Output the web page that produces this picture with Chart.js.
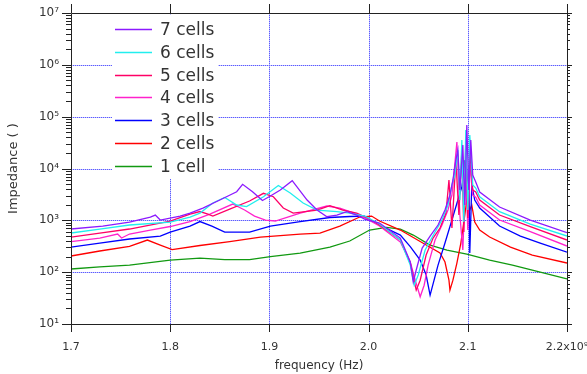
<!DOCTYPE html>
<html>
<head>
<meta charset="utf-8">
<script src="https://cdn.jsdelivr.net/npm/chart.js@4"></script>
<style>
html, body { margin: 0; padding: 0; background: #fff; }
#wrap { width: 587px; height: 374px; }
</style>
</head>
<body>
<div id="wrap"><canvas id="chart" width="587" height="374"></canvas></div>
<script>
// frequency in units of 1e9 Hz, impedance in ohms
const seriesNames = ['7 cells', '6 cells', '5 cells', '4 cells', '3 cells', '2 cells', '1 cell'];
const seriesColors = ['#8c1aff', '#22eeee', '#ff0066', '#ff22cc', '#0000ff', '#ff0000', '#119911'];

const xTickValues = [1.7, 1.8, 1.9, 2.0, 2.1, 2.2];
const xTickLabels = ['1.7', '1.8', '1.9', '2.0', '2.1', '2.2x10\u2079'];
const yTickValues = [1e1, 1e2, 1e3, 1e4, 1e5, 1e6, 1e7];
const yTickLabels = ['10\u00b9', '10\u00b2', '10\u00b3', '10\u2074', '10\u2075', '10\u2076', '10\u2077'];

const cells7 = [[1.700,680],[1.732,776],[1.759,927],[1.780,1158],[1.785,1265],[1.790,1013],[1.810,1210],[1.820,1380],
  [1.833,1726],[1.850,2465],[1.867,3565],[1.873,4950],[1.883,3565],[1.893,2410],[1.901,2945],[1.911,3850],[1.923,5810],
  [1.938,2465],[1.948,1580],[1.958,1175],[1.968,1265],[1.978,1467],[1.988,1265],[1.996,1060],[2.011,887],[2.032,455],
  [2.042,157],[2.045,65],[2.048,110],[2.054,292],[2.062,498],[2.070,812],[2.077,1580],[2.082,3076],[2.085,6000],
  [2.088,14600],[2.090,22800],[2.092,3850],[2.095,28400],[2.097,1975],[2.099,69000],[2.101,3850],[2.103,35500],
  [2.105,7480],[2.108,5490],[2.112,3520],[2.132,1805],[2.163,1013],[2.200,577]];

const cells6 = [[1.700,569],[1.729,679],[1.759,812],[1.800,927],[1.820,1158],[1.830,1380],[1.843,2157],[1.855,2755],
  [1.867,1975],[1.877,1845],[1.894,2855],[1.909,4700],[1.921,3365],[1.934,2157],[1.948,1580],[1.968,1467],[1.981,1380],
  [1.996,1210],[2.011,848],[2.032,417],[2.042,137],[2.046,56],[2.050,88],[2.057,267],[2.067,594],[2.074,1013],
  [2.080,1975],[2.084,4820],[2.087,7480],[2.090,22800],[2.092,2465],[2.094,35500],[2.096,927],[2.098,55300],
  [2.100,1580],[2.102,44300],[2.105,4820],[2.108,4200],[2.112,2855],[2.132,1467],[2.163,848],[2.200,498]];

const cells5 = [[1.700,476],[1.729,569],[1.759,680],[1.800,970],[1.820,1323],[1.830,1480],[1.838,1323],[1.843,1210],
  [1.860,1650],[1.880,2360],[1.894,3320],[1.904,2855],[1.914,1726],[1.924,1380],[1.948,1580],[1.961,1915],[1.974,1580],
  [1.988,1380],[2.001,1060],[2.011,812],[2.032,417],[2.042,150],[2.048,45],[2.052,70],[2.058,214],[2.065,455],
  [2.072,710],[2.078,1380],[2.081,6000],[2.084,710],[2.088,14600],[2.091,1265],[2.094,22800],[2.096,594],
  [2.098,38800],[2.100,1107],[2.102,22800],[2.105,3850],[2.108,3520],[2.112,2465],[2.132,1265],[2.163,753],[2.200,417]];

const cells4 = [[1.700,390],[1.729,455],[1.747,544],[1.751,455],[1.759,544],[1.780,650],[1.800,760],[1.820,948],
  [1.840,1323],[1.863,2063],[1.875,1580],[1.885,1210],[1.896,1013],[1.906,970],[1.931,1380],[1.958,1888],[1.971,1726],
  [1.991,1265],[2.011,776],[2.032,381],[2.042,157],[2.047,70],[2.052,33.5],[2.056,56],[2.060,137],[2.067,417],
  [2.074,812],[2.080,1580],[2.084,3076],[2.089,32500],[2.092,1265],[2.095,267],[2.098,9350],[2.100,650],
  [2.102,11700],[2.105,3076],[2.108,2800],[2.112,1975],[2.132,1013],[2.163,603],[2.200,319]];

const cells3 = [[1.700,305],[1.729,365],[1.759,436],[1.790,498],[1.800,594],[1.820,776],[1.830,948],[1.842,776],
  [1.855,594],[1.880,594],[1.901,776],[1.931,948],[1.961,1133],[1.981,1185],[1.996,1210],[2.011,812],[2.032,520],
  [2.042,310],[2.052,171],[2.058,88],[2.062,36],[2.066,70],[2.070,137],[2.077,365],[2.084,1013],[2.090,2465],
  [2.094,4400],[2.097,14600],[2.099,3850],[2.101,11700],[2.102,234],[2.104,4800],[2.107,2465],[2.112,1726],
  [2.122,1158],[2.132,776],[2.153,498],[2.173,365],[2.200,244]];

const cells2 = [[1.700,205],[1.729,256],[1.759,313],[1.777,417],[1.790,334],[1.802,273],[1.830,327],[1.860,390],
  [1.891,476],[1.931,544],[1.951,569],[1.971,776],[1.991,1158],[2.003,1210],[2.011,970],[2.032,650],[2.052,390],
  [2.072,234],[2.077,157],[2.081,70],[2.082,45],[2.085,70],[2.089,150],[2.093,365],[2.096,927],[2.099,2465],
  [2.102,1580],[2.104,1975],[2.107,927],[2.112,650],[2.122,476],[2.143,305],[2.165,214],[2.200,150]];

const cells1 = [[1.700,115],[1.729,126],[1.759,137],[1.800,171],[1.830,187],[1.855,175],[1.880,175],[1.901,200],
  [1.931,234],[1.961,305],[1.981,399],[2.001,650],[2.018,733],[2.032,679],[2.045,520],[2.062,333],[2.079,267],
  [2.099,224],[2.122,171],[2.145,137],[2.173,100],[2.200,74]];

const seriesData = [cells7, cells6, cells5, cells4, cells3, cells2, cells1];

const FONT = "'DejaVu Sans', sans-serif";
const TEXT = '#333';

// dotted blue grid at the inner major ticks, drawn under the curves
const gridPlugin = {
  id: 'dotGrid',
  beforeDatasetsDraw(chart) {
    const { ctx, chartArea: a } = chart;
    const xs = chart.scales.x, ys = chart.scales.y;
    const path = () => {
      ctx.beginPath();
      yTickValues.slice(1, -1).forEach(v => {
        const py = Math.round(ys.getPixelForValue(v)) + 0.5;
        ctx.moveTo(a.left, py); ctx.lineTo(a.right, py);
      });
      xTickValues.slice(1, -1).forEach(v => {
        const px = Math.round(xs.getPixelForValue(v)) + 0.5;
        ctx.moveTo(px, a.top); ctx.lineTo(px, a.bottom);
      });
    };
    ctx.save();
    ctx.lineWidth = 1;
    ctx.strokeStyle = '#c4c4ff';
    path(); ctx.stroke();
    ctx.strokeStyle = '#5c5cff';
    ctx.setLineDash([1, 1]);
    path(); ctx.stroke();
    ctx.restore();
  }
};

// frame + outward tick marks like the original plot
const framePlugin = {
  id: 'frame',
  afterDraw(chart) {
    const { ctx, chartArea: a } = chart;
    const xs = chart.scales.x, ys = chart.scales.y;
    ctx.save();
    ctx.strokeStyle = '#222';
    ctx.lineWidth = 1;
    ctx.beginPath();
    ctx.rect(a.left + 0.5, a.top + 0.5, a.right - a.left, a.bottom - a.top);
    for (let e = 1; e <= 7; e++) {
      for (let k = 1; k <= 9; k++) {
        const v = k * Math.pow(10, e);
        if (v > 1e7) break;
        const py = Math.round(ys.getPixelForValue(v)) + 0.5;
        const major = k === 1;
        ctx.moveTo(a.left, py); ctx.lineTo(a.left - (major ? 9 : 5), py);
        ctx.moveTo(a.right, py); ctx.lineTo(a.right + (major ? 5 : 3), py);
      }
    }
    xTickValues.forEach(v => {
      const px = Math.round(xs.getPixelForValue(v)) + 0.5;
      ctx.moveTo(px, a.bottom); ctx.lineTo(px, a.bottom + 8);
      ctx.moveTo(px, a.top); ctx.lineTo(px, a.top - 9);
    });
    ctx.stroke();
    ctx.restore();
  }
};

// legend box sitting inside the plot, top left
const legendPlugin = {
  id: 'boxLegend',
  afterDraw(chart) {
    const ctx = chart.ctx;
    ctx.save();
    ctx.fillStyle = '#fff';
    ctx.fillRect(112, 15, 106, 164);
    chart.data.datasets.forEach((ds, i) => {
      const y = Math.round(29 + i * 22.8) + 0.5;
      ctx.strokeStyle = ds.borderColor;
      ctx.lineWidth = 1.3;
      ctx.beginPath();
      ctx.moveTo(115, y);
      ctx.lineTo(152, y);
      ctx.stroke();
      ctx.fillStyle = TEXT;
      ctx.font = '17px ' + FONT;
      ctx.textBaseline = 'middle';
      ctx.fillText(ds.label, 160, y + 1);
    });
    ctx.restore();
  }
};

new Chart(document.getElementById('chart').getContext('2d'), {
  type: 'line',
  data: {
    datasets: seriesData.map((d, i) => ({
      label: seriesNames[i],
      data: d,
      borderColor: seriesColors[i],
      backgroundColor: seriesColors[i],
      borderWidth: 1.3,
      pointRadius: 0,
      tension: 0,
      fill: false
    }))
  },
  options: {
    responsive: false,
    animation: false,
    devicePixelRatio: 1,
    layout: { padding: { top: 13, right: 20, bottom: 0, left: 0 } },
    plugins: { legend: { display: false }, tooltip: { enabled: false } },
    scales: {
      x: {
        type: 'linear',
        min: 1.7,
        max: 2.2,
        afterBuildTicks: s => { s.ticks = xTickValues.map(v => ({ value: v })); },
        afterFit: s => { s.height = 50; s.paddingLeft = 0; s.paddingRight = 0; },
        ticks: {
          callback: (v, i) => xTickLabels[i],
          autoSkip: false, maxRotation: 0, padding: 17,
          color: TEXT, font: { family: FONT, size: 11 }
        },
        grid: { display: false, drawTicks: false },
        border: { display: false },
        title: {
          display: true, text: 'frequency (Hz)', color: TEXT,
          font: { family: FONT, size: 12 }, padding: { top: 0, bottom: 1 }
        }
      },
      y: {
        type: 'logarithmic',
        min: 10,
        max: 1e7,
        afterBuildTicks: s => { s.ticks = yTickValues.map(v => ({ value: v, major: true })); },
        afterFit: s => { s.width = 71; s.paddingTop = 0; s.paddingBottom = 0; },
        ticks: {
          callback: (v, i) => yTickLabels[i],
          autoSkip: false, padding: 12,
          color: TEXT, font: { family: FONT, size: 12 }
        },
        grid: { display: false, drawTicks: false },
        border: { display: false },
        title: {
          display: true, text: 'Impedance ( )', color: TEXT,
          font: { family: FONT, size: 13 }, padding: { top: 6, bottom: 0 }
        }
      }
    }
  },
  plugins: [gridPlugin, framePlugin, legendPlugin]
});
</script>
</body>
</html>
